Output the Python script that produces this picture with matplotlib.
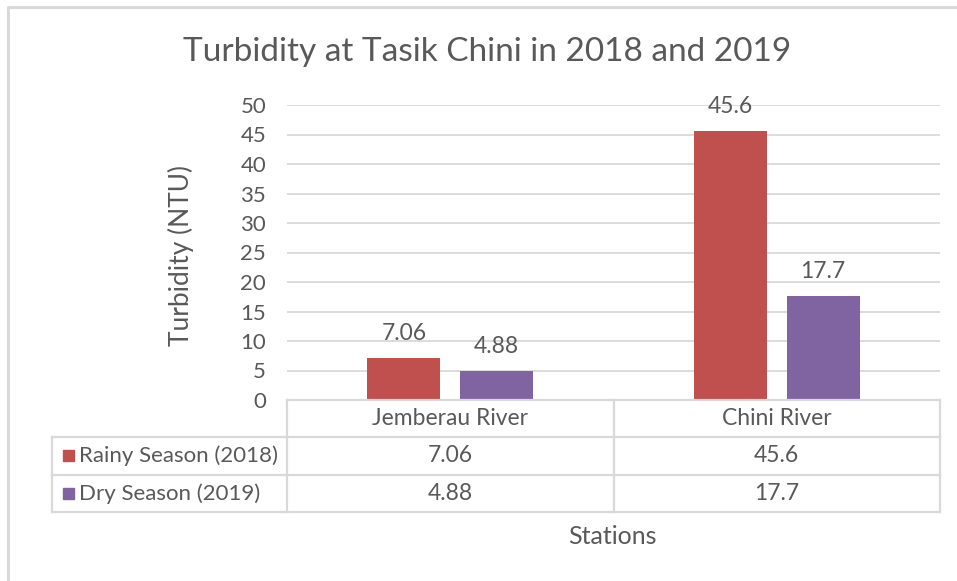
import matplotlib
matplotlib.use("Agg")
import matplotlib.pyplot as plt
from matplotlib.patches import Rectangle

# Data
stations = ["Jemberau River", "Chini River"]
series_names = ["Rainy Season (2018)", "Dry Season (2019)"]
rainy = [7.06, 45.6]
dry = [4.88, 17.7]
series_values = [rainy, dry]
series_colors = ["#C0504D", "#8064A2"]
y_ticks = [0, 5, 10, 15, 20, 25, 30, 35, 40, 45, 50]

TEXT = "#595959"
GRID = "#D9D9D9"
FONT = "Lato"

W, H = 957, 581
fig = plt.figure(figsize=(W / 100, H / 100), dpi=100)
fig.patch.set_facecolor("white")

# Plot area in pixel coordinates
px_left, px_right = 287, 940
px_top, px_bottom = 105, 400
table_left = 52
row_h = 37.3


def fx(x):
    return x / W


def fy(y):
    return 1 - y / H


ax = fig.add_axes([fx(px_left), fy(px_bottom), fx(px_right - px_left),
                   (px_bottom - px_top) / H])
n = len(stations)
ax.set_xlim(-0.5, n - 0.5)
ax.set_ylim(0, 50)
ax.set_yticks(y_ticks)
ax.set_xticks([])
for s in ax.spines.values():
    s.set_visible(False)
ax.yaxis.grid(True, color=GRID, linewidth=1.3)
ax.set_axisbelow(True)
ax.tick_params(axis="y", length=0, pad=15, labelsize=16, labelcolor=TEXT)
for lbl in ax.get_yticklabels():
    lbl.set_fontfamily(FONT)

bar_w = 0.224
gap = 0.06
offsets = [-(bar_w + gap) / 2, (bar_w + gap) / 2]
for vals, color, off in zip(series_values, series_colors, offsets):
    xs = [i + off for i in range(n)]
    ax.bar(xs, vals, width=bar_w, color=color, zorder=3)
    for x, v in zip(xs, vals):
        ax.annotate(f"{v:g}", (x, v), xytext=(0, 10), textcoords="offset points",
                    ha="center", va="bottom", fontsize=16.5, color=TEXT,
                    fontfamily=FONT, zorder=4)

# Overlay in pixel coordinates for frame, titles and data table
ov = fig.add_axes([0, 0, 1, 1], facecolor="none")
ov.set_xlim(0, W)
ov.set_ylim(H, 0)
ov.axis("off")

# Chart frame
ov.plot([8, 8, W + 5], [H + 5, 7, 7], color="#D9D9D9", linewidth=2.2)

ov.text(487, 52, "Turbidity at Tasik Chini in 2018 and 2019", ha="center",
        va="center", fontsize=24, color=TEXT, fontfamily=FONT)

ov.text(181, 255, "Turbidity (NTU)", ha="center", va="center", rotation=90,
        fontsize=19, color=TEXT, fontfamily=FONT)

# Data table below the axis
col_w = (px_right - px_left) / n
col_edges = [px_left + i * col_w for i in range(n + 1)]
rows_y = [px_bottom + i * row_h for i in range(len(series_names) + 2)]
lc = "#D9D9D9"
lw = 1.6
ov.plot([px_left, px_right], [rows_y[0], rows_y[0]], color=lc, lw=lw)
for y in rows_y[1:]:
    ov.plot([table_left, px_right], [y, y], color=lc, lw=lw)
ov.plot([table_left, table_left], [rows_y[1], rows_y[-1]], color=lc, lw=lw)
for x in col_edges:
    ov.plot([x, x], [rows_y[0], rows_y[-1]], color=lc, lw=lw)

for i, name in enumerate(stations):
    cx = (col_edges[i] + col_edges[i + 1]) / 2
    ov.text(cx, (rows_y[0] + rows_y[1]) / 2, name, ha="center", va="center",
            fontsize=16.5, color=TEXT, fontfamily=FONT)

for r, (name, vals, color) in enumerate(zip(series_names, series_values,
                                            series_colors)):
    cy = (rows_y[r + 1] + rows_y[r + 2]) / 2
    ov.add_patch(Rectangle((63, cy - 5.5), 11, 11, color=color))
    ov.text(79, cy, name, ha="left", va="center", fontsize=16, color=TEXT,
            fontfamily=FONT)
    for i, v in enumerate(vals):
        cx = (col_edges[i] + col_edges[i + 1]) / 2
        ov.text(cx, cy, f"{v:g}", ha="center", va="center", fontsize=16.5,
                color=TEXT, fontfamily=FONT)

ov.text(612, 536, "Stations", ha="center", va="center", fontsize=18,
        color=TEXT, fontfamily=FONT)

fig.savefig("out.png", dpi=100)
